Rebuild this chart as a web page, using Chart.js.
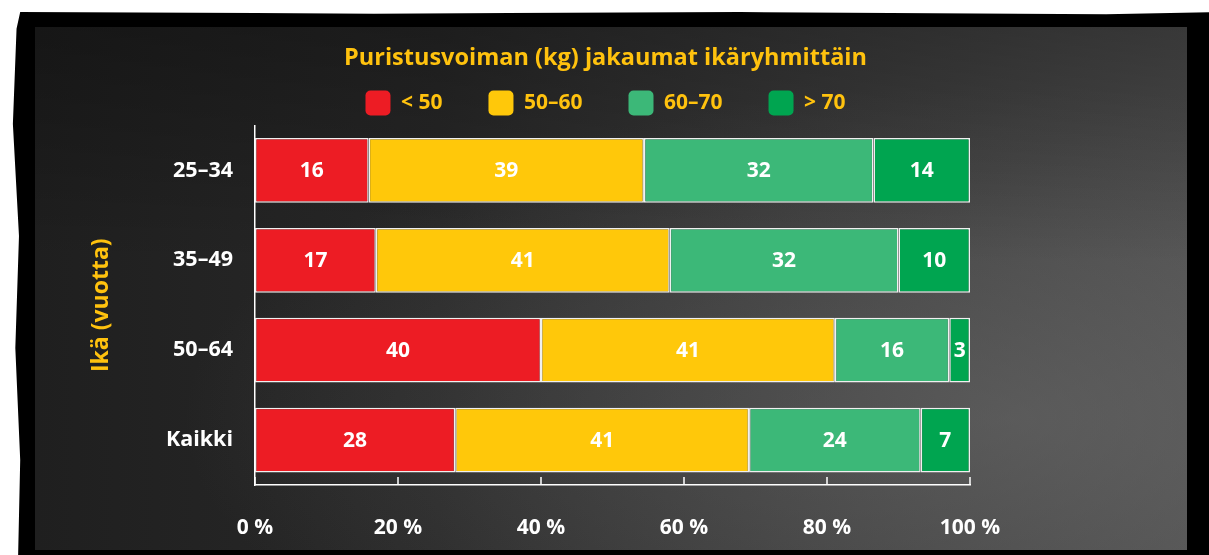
<!DOCTYPE html>
<html>
<head>
<meta charset="utf-8">
<script src="https://cdn.jsdelivr.net/npm/chart.js@4/dist/chart.umd.min.js"></script>
<style>
  html, body { margin: 0; padding: 0; background: #fff; }
  #wrap { position: relative; width: 1209px; height: 555px; overflow: hidden; }
  #frame {
    position: absolute; left: 8px; top: 12px; width: 1220px; height: 560px; background: #000;
    clip-path: polygon(1% 0, 30% 0.3%, 60% 0, 90% 0.4%, 100% 0, 100% 100%, 0.8% 100%, 1% 80%, 0.6% 60%, 0.9% 40%, 0.4% 20%, 0.7% 3%);
  }
  #panel {
    position: absolute; left: 35px; top: 27px; width: 1152px; height: 523px;
    background:
      linear-gradient(to bottom, rgba(0,0,0,0.3) 0%, rgba(0,0,0,0) 45%),
      radial-gradient(ellipse at 85% 75%, rgba(110,110,110,0.5), rgba(0,0,0,0) 60%),
      linear-gradient(to right, #1f1f1f 0%, #292929 35%, #3e3e3e 70%, #505050 100%);
  }
  canvas { position: absolute; left: 0; top: 0; }
</style>
</head>
<body>
<div id="wrap">
  <div id="frame"></div>
  <div id="panel"></div>
  <canvas id="grip" width="1209" height="555"></canvas>
</div>
<script>
// ikäryhmät ja puristusvoiman osuudet (%)
const ageGroups = ['25–34', '35–49', '50–64', 'Kaikki'];
const under50 = [15.9, 16.9, 40.0, 28.0];
const from50to60 = [38.5, 41.1, 41.1, 41.1];
const from60to70 = [32.1, 32.0, 16.0, 24.0];
const over70 = [13.5, 10.0, 2.9, 6.9];
const seriesNames = ['< 50', '50–60', '60–70', '> 70'];
const seriesColors = ['#ed1c24', '#ffc80a', '#3cb878', '#00a550'];
const xTicks = [0, 20, 40, 60, 80, 100];

const FONT = '"Open Sans", "DejaVu Sans", sans-serif';
const YELLOW = '#ffc20e';

// arvot palkkien keskelle
const barLabels = {
  id: 'barLabels',
  afterDatasetsDraw(chart) {
    const ctx = chart.ctx;
    ctx.save();
    ctx.font = 'bold 21px ' + FONT;
    ctx.fillStyle = '#fff';
    ctx.textAlign = 'center';
    ctx.textBaseline = 'middle';
    chart.data.datasets.forEach((ds, i) => {
      chart.getDatasetMeta(i).data.forEach((bar, j) => {
        const p = bar.getCenterPoint();
        ctx.fillText(Math.round(ds.data[j]), p.x, p.y + 1);
      });
    });
    ctx.restore();
  }
};

// pienet tikit x-akselin sisäpuolelle
const innerTicks = {
  id: 'innerTicks',
  afterDraw(chart) {
    const ctx = chart.ctx;
    const x = chart.scales.x;
    ctx.save();
    ctx.strokeStyle = '#fff';
    ctx.lineWidth = 1.5;
    xTicks.forEach(v => {
      const px = x.getPixelForValue(v);
      ctx.beginPath();
      ctx.moveTo(px, x.top);
      ctx.lineTo(px, x.top - 8);
      ctx.stroke();
    });
    ctx.restore();
  }
};

const allSeries = [under50, from50to60, from60to70, over70];

new Chart(document.getElementById('grip'), {
  type: 'bar',
  data: {
    labels: ageGroups,
    datasets: allSeries.map((vals, i) => ({
      label: seriesNames[i],
      data: vals,
      backgroundColor: seriesColors[i],
      borderColor: '#f0f0f0',
      borderWidth: 1.5,
      borderSkipped: false,
      barPercentage: 0.72,
      categoryPercentage: 1
    }))
  },
  options: {
    indexAxis: 'y',
    responsive: false,
    animation: false,
    layout: { padding: { left: 2, right: 0, top: 0, bottom: 0 } },
    plugins: {
      title: {
        display: true,
        text: 'Puristusvoiman (kg) jakaumat ikäryhmittäin',
        color: YELLOW,
        font: { family: FONT, size: 23.5, weight: 'bold', lineHeight: 1.2 },
        padding: { top: 44, bottom: -27.7 }
      },
      legend: {
        labels: {
          color: YELLOW,
          font: { family: FONT, size: 21, weight: 'bold' },
          boxWidth: 25,
          boxHeight: 25,
          padding: 46,
          generateLabels(chart) {
            return chart.data.datasets.map((ds, i) => ({
              text: ds.label,
              fillStyle: ds.backgroundColor,
              strokeStyle: ds.backgroundColor,
              lineWidth: 0,
              fontColor: YELLOW,
              borderRadius: 5,
              datasetIndex: i
            }));
          }
        }
      },
      tooltip: { enabled: false }
    },
    scales: {
      x: {
        stacked: true,
        min: 0,
        max: 100,
        grid: { display: false },
        border: { color: '#fff', width: 1.5 },
        afterBuildTicks(scale) { scale.ticks = xTicks.map(v => ({ value: v })); },
        ticks: {
          color: '#fff',
          font: { family: FONT, size: 21, weight: 'bold' },
          padding: 22,
          maxRotation: 0,
          callback: v => v + ' %'
        },
        afterFit(scale) { scale.height = 70; }
      },
      y: {
        stacked: true,
        grid: { display: false, drawTicks: false },
        border: { color: '#fff', width: 1.5 },
        ticks: {
          color: '#fff',
          font: { family: FONT, size: 21.5, weight: 'bold' },
          padding: 22
        },
        title: {
          display: true,
          text: 'Ikä (vuotta)',
          color: YELLOW,
          font: { family: FONT, size: 23, weight: 'bold' },
          padding: { top: 86, bottom: 0 }
        },
        afterFit(scale) { scale.width = 253; }
      },
      yR: {
        position: 'right',
        display: true,
        grid: { display: false },
        border: { display: false },
        ticks: { display: false },
        afterFit(scale) { scale.width = 239; }
      }
    }
  },
  plugins: [barLabels, innerTicks]
});
</script>
</body>
</html>
